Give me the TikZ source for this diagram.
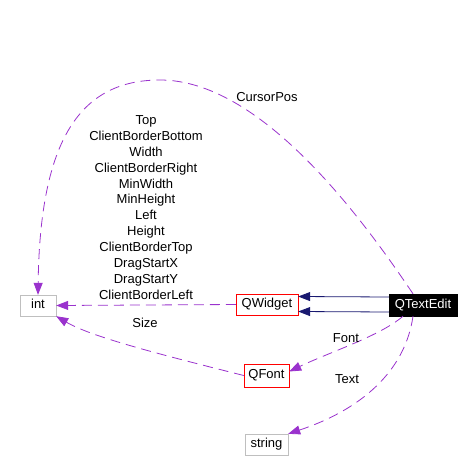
\documentclass[tikz,border=0pt]{standalone}
\usepackage{fontspec}
\setmainfont{Liberation Sans}
\usetikzlibrary{arrows.meta}
\definecolor{kante}{HTML}{9A32CD}
\definecolor{erbe}{HTML}{191970}
\definecolor{grau}{HTML}{BFBFBF}
\tikzset{
    klasse/.style={draw=grau,fill=white,inner sep=0pt,text height=9pt,text depth=2.5pt},
    dok/.style={klasse,draw=red},
    haupt/.style={klasse,draw=black,fill=black,text=white},
    nutzt/.style={draw=kante,line width=0.8pt,dash pattern=on 10pt off 6pt,-{Triangle[length=12pt,width=9pt]},fill=none},
    erbt/.style={draw=erbe,line width=0.8pt,-{Triangle[length=12pt,width=9pt,fill=erbe]}},
}
\begin{document}
\begin{tikzpicture}[x=1pt,y=-1pt,font=\fontsize{13}{16}\selectfont]
            \useasboundingbox (0,0) rectangle (473,475);

            % Klassen
            \node[klasse,minimum width=36pt,minimum height=21pt] (int) at (38,305.5) {int};
            \node[dok,minimum width=62pt,minimum height=21pt] (QWidget) at (267,304.5) {QWidget};
            \node[haupt,minimum width=68pt,minimum height=22pt] (QTextEdit) at (423,305) {QTextEdit};
            \node[dok,minimum width=45pt,minimum height=23pt] (QFont) at (266.5,375.5) {QFont};
            \node[klasse,minimum width=43pt,minimum height=21pt] (string) at (266.5,444.5) {string};

            % Vererbung
            \draw[erbt] ([yshift=8pt]QTextEdit.west) -- ([yshift=8pt]QWidget.east);
            \draw[erbt] ([yshift=-7pt]QTextEdit.west) -- ([yshift=-7pt]QWidget.east);

            % Pfeile & Beschriftung
            \draw[nutzt,kante] (QWidget.west) -- (int.east);
            \node[align=center,font=\fontsize{13}{15.9}\selectfont] (felder) at (146,207.5)
                {Top\\ClientBorderBottom\\Width\\ClientBorderRight\\MinWidth\\MinHeight\\Left\\Height\\ClientBorderTop\\DragStartX\\DragStartY\\ClientBorderLeft};
            \draw[nutzt,kante] (QFont.west) .. controls (150,352) and (90,336) .. (int.south east);
            \node (size) at (145,323) {Size};
            \draw[nutzt,kante] ([xshift=-10pt]QTextEdit.north) .. controls (360,215) and (260,80) .. (160,80)
                .. controls (80,80) and (40,140) .. (int.north);
            \node (cursor) at (267,97) {CursorPos};
            \draw[nutzt,kante] ([xshift=-20pt]QTextEdit.south) .. controls (380,336) and (330,352) .. ([yshift=4pt]QFont.east);
            \node (font) at (346,338) {Font};
            \draw[nutzt,kante] ([xshift=-10pt]QTextEdit.south) .. controls (405,372) and (360,410) .. (string.north east);
            \node (text) at (347,379) {Text};
        \end{tikzpicture}
\end{document}
